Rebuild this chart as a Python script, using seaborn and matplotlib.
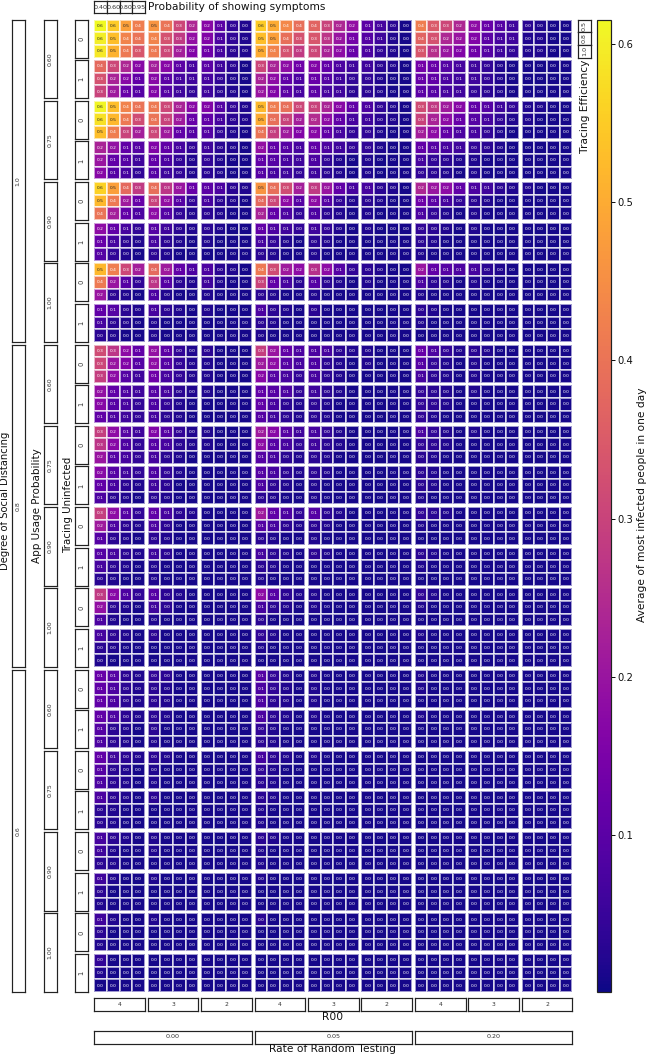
import numpy as np
import matplotlib
matplotlib.use("Agg")
import matplotlib.pyplot as plt
import seaborn as sns
import seaborn.matrix

# tick labels of every facet strip
symptoms = ["0.40", "0.60", "0.80", "0.95"]
tracing_eff = ["0.5", "0.8", "1.0"]
r00 = ["4", "3", "2"]
random_testing = ["0.00", "0.05", "0.20"]
tracing_uninfected = ["0", "1"]
app_usage = ["0.60", "0.75", "0.90", "1.00"]
social_distancing = ["1.0", "0.8", "0.6"]

# infected share in hundredths
# rows: app usage / tracing uninfected / efficiency, columns: rate / R00 / symptoms
sd_100 = [
    [62,55,48,42, 46,40,31,24, 17,10,4,2, 55,50,44,39, 37,30,24,19, 10,7,3,1, 42,35,31,24, 18,12,9,6, 3,2,1,1],
    [60,53,43,40, 43,33,28,19, 16,8,4,2, 53,48,39,33, 34,27,20,14, 9,6,2,1, 37,33,24,20, 16,10,7,6, 2,2,1,1],
    [59,51,41,34, 41,31,22,16, 13,7,3,2, 50,43,33,28, 31,23,18,12, 8,4,2,1, 34,26,20,16, 13,9,6,4, 2,2,1,1],
    [38,31,24,17, 22,17,10,7, 10,6,3,1, 31,23,18,13, 16,11,8,6, 6,3,2,1, 14,12,9,7, 6,4,2,1, 1,1,1,1],
    [33,23,17,11, 17,10,7,6, 7,4,2,1, 23,18,11,8, 12,9,6,4, 4,2,1,1, 12,11,8,6, 6,4,2,1, 1,1,1,1],
    [30,21,12,9, 16,9,6,4, 6,3,2,1, 20,16,10,7, 10,7,6,3, 3,2,1,1, 10,9,7,6, 4,3,2,1, 1,1,1,1],
    [61,53,43,40, 41,31,23,17, 16,9,4,2, 52,42,39,31, 30,23,17,11, 8,4,2,1, 32,28,21,17, 11,9,6,4, 2,2,1,1],
    [58,52,41,32, 40,30,21,12, 11,7,3,2, 50,39,30,22, 25,18,11,7, 6,3,2,1, 30,23,18,12, 9,7,4,2, 2,1,1,1],
    [53,42,30,22, 31,21,11,9, 9,4,2,1, 40,29,21,16, 17,11,7,4, 4,2,1,1, 22,18,11,8, 7,4,2,1, 1,1,1,1],
    [23,19,11,9, 16,11,7,4, 6,3,2,1, 19,11,9,7, 11,8,6,4, 4,2,1,1, 11,9,7,6, 4,3,2,1, 1,1,1,1],
    [20,11,9,6, 11,8,4,2, 4,2,1,1, 11,9,7,6, 8,4,2,1, 2,1,1,1, 7,4,3,2, 2,1,1,1, 1,1,1,1],
    [17,9,7,4, 9,6,4,2, 3,2,1,1, 9,7,6,4, 6,3,2,1, 2,1,1,1, 4,3,2,1, 2,1,1,1, 1,1,1,1],
    [56,48,38,28, 39,27,20,12, 10,8,3,2, 46,39,32,22, 28,20,11,7, 7,3,2,1, 24,20,18,11, 8,6,3,2, 2,1,1,1],
    [52,41,21,12, 30,19,9,4, 7,3,2,1, 38,31,18,9, 18,9,4,2, 3,2,1,1, 13,10,7,4, 3,2,1,1, 1,1,1,1],
    [40,22,11,8, 18,9,4,2, 3,2,1,1, 23,11,8,4, 8,3,2,1, 2,1,1,1, 8,4,2,1, 2,1,1,1, 1,1,1,1],
    [18,11,7,4, 9,6,3,2, 3,2,1,1, 11,8,6,4, 6,4,2,1, 2,1,1,1, 4,3,2,1, 2,1,1,1, 1,1,1,1],
    [12,7,3,2, 7,3,2,1, 2,1,1,1, 7,4,2,1, 3,2,1,1, 1,1,1,1, 3,2,1,1, 1,1,1,1, 1,1,1,1],
    [9,4,2,1, 3,2,1,1, 1,1,1,1, 3,2,1,1, 2,1,1,1, 1,1,1,1, 2,1,1,1, 1,1,1,1, 1,1,1,1],
    [52,42,31,22, 38,21,11,8, 8,3,2,1, 41,32,21,18, 26,18,9,4, 3,2,1,1, 20,11,9,8, 7,3,2,1, 1,1,1,1],
    [41,20,9,4, 27,9,3,2, 6,2,1,1, 30,11,7,3, 9,3,2,1, 2,1,1,1, 8,3,2,1, 2,1,1,1, 1,1,1,1],
    [20,3,2,1, 8,2,1,1, 2,1,1,1, 3,2,1,1, 2,1,1,1, 1,1,1,1, 2,1,1,1, 1,1,1,1, 1,1,1,1],
    [11,9,3,2, 7,3,2,1, 2,1,1,1, 8,3,2,1, 3,1,1,1, 1,1,1,1, 3,2,1,1, 1,1,1,1, 1,1,1,1],
    [7,3,2,1, 2,1,1,1, 1,1,1,1, 3,2,1,1, 1,1,1,1, 1,1,1,1, 2,1,1,1, 1,1,1,1, 1,1,1,1],
    [3,2,1,1, 2,1,1,1, 1,1,1,1, 2,1,1,1, 1,1,1,1, 1,1,1,1, 1,1,1,1, 1,1,1,1, 1,1,1,1],
]
sd_080 = [
    [32,27,18,11, 19,10,4,2, 3,1,1,1, 29,20,11,8, 8,7,3,2, 2,1,1,1, 12,8,4,2, 3,2,1,1, 1,1,1,1],
    [31,20,16,9, 18,9,4,2, 2,1,1,1, 21,18,9,7, 8,3,2,1, 2,1,1,1, 9,4,2,1, 2,1,1,1, 1,1,1,1],
    [29,18,9,6, 13,7,4,2, 2,1,1,1, 17,9,7,4, 7,3,2,1, 1,1,1,1, 7,3,2,1, 2,1,1,1, 1,1,1,1],
    [19,11,8,6, 9,7,3,2, 2,1,1,1, 11,9,8,4, 6,3,2,1, 1,1,1,1, 4,3,2,1, 2,1,1,1, 1,1,1,1],
    [17,9,7,4, 8,4,2,1, 1,1,1,1, 11,7,3,2, 3,2,1,1, 1,1,1,1, 4,3,2,1, 1,1,1,1, 1,1,1,1],
    [11,8,6,4, 7,3,2,1, 1,1,1,1, 9,6,3,2, 3,2,1,1, 1,1,1,1, 4,2,1,1, 1,1,1,1, 1,1,1,1],
    [29,18,9,6, 16,9,4,2, 2,1,1,1, 21,17,9,6, 7,4,2,1, 1,1,1,1, 8,4,2,1, 2,1,1,1, 1,1,1,1],
    [27,17,8,4, 9,7,3,2, 2,1,1,1, 18,9,7,4, 6,3,2,1, 1,1,1,1, 4,3,2,1, 1,1,1,1, 1,1,1,1],
    [20,9,7,4, 7,3,2,1, 1,1,1,1, 9,7,3,2, 3,2,1,1, 1,1,1,1, 3,2,1,1, 1,1,1,1, 1,1,1,1],
    [17,9,6,4, 8,4,2,1, 1,1,1,1, 9,7,3,2, 3,2,1,1, 1,1,1,1, 3,2,1,1, 1,1,1,1, 1,1,1,1],
    [11,7,3,2, 6,3,1,1, 1,1,1,1, 8,3,2,1, 2,1,1,1, 1,1,1,1, 3,2,1,1, 1,1,1,1, 1,1,1,1],
    [8,3,2,1, 3,2,1,1, 1,1,1,1, 3,2,1,1, 2,1,1,1, 1,1,1,1, 2,1,1,1, 1,1,1,1, 1,1,1,1],
    [29,18,9,4, 11,7,3,2, 1,1,1,1, 21,11,8,4, 9,3,2,1, 1,1,1,1, 4,3,2,1, 1,1,1,1, 1,1,1,1],
    [21,8,3,2, 8,3,1,1, 1,1,1,1, 9,7,3,2, 3,2,1,1, 1,1,1,1, 2,1,1,1, 1,1,1,1, 1,1,1,1],
    [9,3,2,1, 3,2,1,1, 1,1,1,1, 3,2,1,1, 2,1,1,1, 1,1,1,1, 1,1,1,1, 1,1,1,1, 1,1,1,1],
    [9,7,3,2, 6,3,1,1, 1,1,1,1, 7,3,2,1, 3,2,1,1, 1,1,1,1, 3,2,1,1, 1,1,1,1, 1,1,1,1],
    [7,3,2,1, 2,1,1,1, 1,1,1,1, 3,2,1,1, 1,1,1,1, 1,1,1,1, 2,1,1,1, 1,1,1,1, 1,1,1,1],
    [3,2,1,1, 2,1,1,1, 1,1,1,1, 2,1,1,1, 1,1,1,1, 1,1,1,1, 1,1,1,1, 1,1,1,1, 1,1,1,1],
    [28,17,8,4, 9,3,2,1, 1,1,1,1, 18,9,3,2, 2,1,1,1, 1,1,1,1, 4,2,1,1, 1,1,1,1, 1,1,1,1],
    [19,3,2,1, 6,3,1,1, 1,1,1,1, 7,3,2,1, 2,1,1,1, 1,1,1,1, 2,1,1,1, 1,1,1,1, 1,1,1,1],
    [8,2,1,1, 2,1,1,1, 1,1,1,1, 3,1,1,1, 1,1,1,1, 1,1,1,1, 1,1,1,1, 1,1,1,1, 1,1,1,1],
    [7,3,2,1, 3,1,1,1, 1,1,1,1, 4,2,1,1, 1,1,1,1, 1,1,1,1, 2,1,1,1, 1,1,1,1, 1,1,1,1],
    [3,2,1,1, 1,1,1,1, 1,1,1,1, 2,1,1,1, 1,1,1,1, 1,1,1,1, 1,1,1,1, 1,1,1,1, 1,1,1,1],
    [2,1,1,1, 1,1,1,1, 1,1,1,1, 1,1,1,1, 1,1,1,1, 1,1,1,1, 1,1,1,1, 1,1,1,1, 1,1,1,1],
]
sd_060 = [
    [12,9,3,2, 4,3,1,1, 1,1,1,1, 9,4,2,1, 2,1,1,1, 1,1,1,1, 2,1,1,1, 1,1,1,1, 1,1,1,1],
    [11,8,3,2, 3,2,1,1, 1,1,1,1, 8,4,2,1, 2,1,1,1, 1,1,1,1, 2,1,1,1, 1,1,1,1, 1,1,1,1],
    [11,8,3,2, 3,2,1,1, 1,1,1,1, 8,3,2,1, 2,1,1,1, 1,1,1,1, 1,1,1,1, 1,1,1,1, 1,1,1,1],
    [11,8,3,2, 3,2,1,1, 1,1,1,1, 8,3,2,1, 2,1,1,1, 1,1,1,1, 2,1,1,1, 1,1,1,1, 1,1,1,1],
    [9,3,2,1, 3,1,1,1, 1,1,1,1, 4,2,1,1, 1,1,1,1, 1,1,1,1, 1,1,1,1, 1,1,1,1, 1,1,1,1],
    [8,3,2,1, 2,1,1,1, 1,1,1,1, 3,2,1,1, 1,1,1,1, 1,1,1,1, 1,1,1,1, 1,1,1,1, 1,1,1,1],
    [11,6,3,2, 3,2,1,1, 1,1,1,1, 7,3,2,1, 2,1,1,1, 1,1,1,1, 1,1,1,1, 1,1,1,1, 1,1,1,1],
    [9,3,2,1, 2,1,1,1, 1,1,1,1, 4,2,1,1, 1,1,1,1, 1,1,1,1, 1,1,1,1, 1,1,1,1, 1,1,1,1],
    [8,3,2,1, 2,1,1,1, 1,1,1,1, 3,2,1,1, 1,1,1,1, 1,1,1,1, 1,1,1,1, 1,1,1,1, 1,1,1,1],
    [8,3,2,1, 3,1,1,1, 1,1,1,1, 3,2,1,1, 1,1,1,1, 1,1,1,1, 1,1,1,1, 1,1,1,1, 1,1,1,1],
    [3,2,1,1, 1,1,1,1, 1,1,1,1, 2,1,1,1, 1,1,1,1, 1,1,1,1, 1,1,1,1, 1,1,1,1, 1,1,1,1],
    [3,2,1,1, 1,1,1,1, 1,1,1,1, 2,1,1,1, 1,1,1,1, 1,1,1,1, 1,1,1,1, 1,1,1,1, 1,1,1,1],
    [7,3,2,1, 2,1,1,1, 1,1,1,1, 3,2,1,1, 1,1,1,1, 1,1,1,1, 1,1,1,1, 1,1,1,1, 1,1,1,1],
    [6,2,1,1, 2,1,1,1, 1,1,1,1, 2,1,1,1, 1,1,1,1, 1,1,1,1, 1,1,1,1, 1,1,1,1, 1,1,1,1],
    [3,2,1,1, 1,1,1,1, 1,1,1,1, 2,1,1,1, 1,1,1,1, 1,1,1,1, 1,1,1,1, 1,1,1,1, 1,1,1,1],
    [6,2,1,1, 2,1,1,1, 1,1,1,1, 2,1,1,1, 1,1,1,1, 1,1,1,1, 1,1,1,1, 1,1,1,1, 1,1,1,1],
    [3,1,1,1, 1,1,1,1, 1,1,1,1, 1,1,1,1, 1,1,1,1, 1,1,1,1, 1,1,1,1, 1,1,1,1, 1,1,1,1],
    [2,1,1,1, 1,1,1,1, 1,1,1,1, 1,1,1,1, 1,1,1,1, 1,1,1,1, 1,1,1,1, 1,1,1,1, 1,1,1,1],
    [6,2,1,1, 2,1,1,1, 1,1,1,1, 3,1,1,1, 1,1,1,1, 1,1,1,1, 1,1,1,1, 1,1,1,1, 1,1,1,1],
    [3,1,1,1, 1,1,1,1, 1,1,1,1, 1,1,1,1, 1,1,1,1, 1,1,1,1, 1,1,1,1, 1,1,1,1, 1,1,1,1],
    [2,1,1,1, 1,1,1,1, 1,1,1,1, 1,1,1,1, 1,1,1,1, 1,1,1,1, 1,1,1,1, 1,1,1,1, 1,1,1,1],
    [4,1,1,1, 1,1,1,1, 1,1,1,1, 1,1,1,1, 1,1,1,1, 1,1,1,1, 1,1,1,1, 1,1,1,1, 1,1,1,1],
    [2,1,1,1, 1,1,1,1, 1,1,1,1, 1,1,1,1, 1,1,1,1, 1,1,1,1, 1,1,1,1, 1,1,1,1, 1,1,1,1],
    [1,1,1,1, 1,1,1,1, 1,1,1,1, 1,1,1,1, 1,1,1,1, 1,1,1,1, 1,1,1,1, 1,1,1,1, 1,1,1,1],
]
values = np.array(sd_100 + sd_080 + sd_060) / 100

W, H = 648, 1055
fig = plt.figure(figsize=(W / 72, H / 72), dpi=72)


def px_axes(x0, y0, x1, y1):
    # axes from pixel box, y counted from the top
    return fig.add_axes([x0 / W, 1 - y1 / H, (x1 - x0) / W, (y1 - y0) / H])


def strip(x0, y0, x1, y1, label, size, rotation=0):
    ax = px_axes(x0, y0, x1, y1)
    ax.set_xticks([])
    ax.set_yticks([])
    for s in ax.spines.values():
        s.set_linewidth(1.2)
        s.set_edgecolor("#222222")
    ax.text(0.5, 0.5, label, transform=ax.transAxes, ha="center", va="center",
            fontsize=size, rotation=rotation, color="#333333")


def title(x, y, label, rotation=0, ha="center", va="center", size=10.6):
    fig.text(x / W, 1 - y / H, label, fontsize=size, rotation=rotation, ha=ha, va=va, color="#111111")


panel_w, panel_h = 50.7, 38.0
col_x = [94.3 + i * 53.42 for i in range(9)]
row_y = [19.5 + i * 40.63 for i in range(24)]

cax = px_axes(597, 19.5, 610.5, 992)

# heatmap redraws the whole figure on every call, far too slow with 216 panels
seaborn.matrix._draw_figure = lambda f: None

first_ax = None
for r in range(24):
    for c in range(9):
        ax = px_axes(col_x[c], row_y[r], col_x[c] + panel_w, row_y[r] + panel_h)
        first = first_ax is None
        sns.heatmap(values[r * 3:(r + 1) * 3, c * 4:(c + 1) * 4], ax=ax, cmap="plasma",
                    vmin=0.0008, vmax=0.6155, annot=True, fmt=".1f",
                    annot_kws={"size": 4.4}, linewidths=0.4, linecolor=(1, 1, 1, 0.6),
                    xticklabels=False, yticklabels=False,
                    cbar=first, cbar_ax=cax if first else None,
                    cbar_kws={"ticks": [0.1, 0.2, 0.3, 0.4, 0.5, 0.6]})
        if first:
            first_ax = ax

# colorbar
cax.tick_params(labelsize=10, length=4, width=1, pad=3, colors="#111111")
cbar = first_ax.collections[0].colorbar
cbar.outline.set_visible(True)
cbar.outline.set_linewidth(1.2)
cbar.outline.set_edgecolor("#222222")
title(642, 505, "Average of most infected people in one day", rotation=90)

# top strip, symptoms
for i, lab in enumerate(symptoms):
    strip(94.3 + i * 12.68, 1.2, 94.3 + (i + 1) * 12.68, 13.2, lab, 6.4)
title(148, 6.5, "Probability of showing symptoms", ha="left")

# right strip, tracing efficiency
for i, lab in enumerate(tracing_eff):
    strip(578, 19.5 + i * 12.67, 590.5, 19.5 + (i + 1) * 12.67, lab, 6.4, rotation=90)
title(585, 153, "Tracing Efficiency", rotation=90, va="bottom")

# left strips
for i in range(24):
    strip(75, row_y[i], 88, row_y[i] + panel_h, tracing_uninfected[i % 2], 6.8, rotation=90)
for i in range(12):
    y0 = row_y[i * 2]
    strip(43.5, y0, 56.5, row_y[i * 2 + 1] + panel_h, app_usage[i % 4], 6.2, rotation=90)
for i in range(3):
    y0 = row_y[i * 8]
    strip(11.5, y0, 24.5, row_y[i * 8 + 7] + panel_h, social_distancing[i], 6.2, rotation=90)
title(5.0, 501, "Degree of Social Distancing", rotation=90, size=10)
title(37.5, 506, "App Usage Probability", rotation=90, size=10.4)
title(68.5, 505, "Tracing Uninfected", rotation=90, size=10.2)

# bottom strips
for i in range(9):
    strip(col_x[i], 998, col_x[i] + panel_w, 1011, r00[i % 3], 6)
for i in range(3):
    strip(col_x[i * 3], 1030.5, col_x[i * 3 + 2] + panel_w, 1043.5, random_testing[i], 6.4)
title(333, 1017, "R00")
title(333, 1049, "Rate of Random Testing")

fig.savefig("out.png", dpi=72, facecolor="white")
